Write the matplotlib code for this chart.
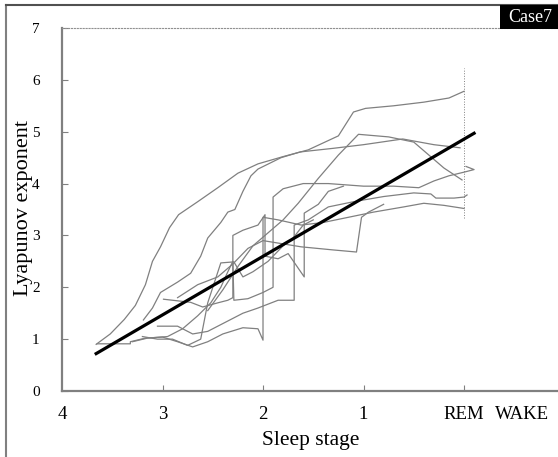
import numpy as np
import matplotlib
matplotlib.use("Agg")
import matplotlib.pyplot as plt
from matplotlib.patches import Rectangle
from matplotlib.lines import Line2D

plt.rcParams['font.family'] = ['Liberation Serif', 'DejaVu Serif']

# sleep stage positions (4 = deep sleep, 0 = REM) and labels
stage_pos = [4, 3, 2, 1, 0, -0.58]
stage_labels = ['4', '3', '2', '1', 'REM', 'WAKE']
y_ticks = [0, 1, 2, 3, 4, 5, 6, 7]

# trajectories (sleep stage, Lyapunov exponent)
t1_x = [3.66, 3.52, 3.38, 3.27, 3.17, 3.10, 3.02, 2.93, 2.84, 2.65, 2.45, 2.25, 2.05, 1.80, 1.55, 1.25, 1.10, 0.98, 0.70, 0.40, 0.15, 0.00]
t1_y = [0.90, 1.10, 1.38, 1.65, 2.05, 2.50, 2.78, 3.15, 3.40, 3.65, 3.92, 4.20, 4.38, 4.52, 4.65, 4.92, 5.38, 5.45, 5.50, 5.57, 5.65, 5.78]

t2_x = [3.19, 3.10, 3.02, 2.85, 2.72, 2.62, 2.55, 2.42, 2.35, 2.28, 2.20, 2.12, 2.05, 1.82, 1.63, 1.30, 1.00, 0.61, 0.30, 0.04]
t2_y = [1.37, 1.60, 1.90, 2.10, 2.27, 2.60, 2.95, 3.25, 3.45, 3.50, 3.85, 4.15, 4.28, 4.50, 4.61, 4.68, 4.75, 4.86, 4.75, 4.69]

t3_x = [2.55, 2.40, 2.25, 2.10, 1.95, 1.80, 1.65, 1.45, 1.25, 1.05, 0.75, 0.50, 0.35, 0.20, 0.02]
t3_y = [1.55, 1.95, 2.40, 2.80, 3.05, 3.30, 3.62, 4.10, 4.55, 4.95, 4.90, 4.80, 4.55, 4.30, 4.07]

t4_x = [3.30, 3.15, 2.95, 2.80, 2.65, 2.52, 2.42, 2.35, 2.30, 2.29, 2.15, 2.00, 1.90, 1.90, 1.80, 1.60, 1.35, 1.00, 0.70, 0.45, 0.30, 0.15, 0.00, -0.10, -0.02]
t4_y = [0.95, 1.02, 1.05, 1.20, 1.45, 1.70, 2.00, 2.30, 2.50, 1.75, 1.78, 1.90, 2.00, 3.74, 3.90, 4.00, 4.00, 3.95, 3.95, 3.92, 4.05, 4.15, 4.22, 4.27, 4.33]

t5_x = [3.05, 2.85, 2.70, 2.55, 2.40, 2.20, 2.05, 1.85, 1.69, 1.69, 1.55, 1.35, 1.10, 0.80, 0.50, 0.33, 0.28, 0.10, 0.00, -0.03]
t5_y = [1.25, 1.25, 1.10, 1.15, 1.30, 1.50, 1.60, 1.75, 1.75, 3.20, 3.30, 3.55, 3.65, 3.75, 3.82, 3.80, 3.72, 3.72, 3.74, 3.78]

t6_x = [3.65, 3.32, 3.32, 3.17, 3.00, 2.85, 2.70, 2.55, 2.40, 2.20, 2.05, 2.00, 2.00, 1.85, 1.62, 1.40, 1.15, 0.90, 0.60, 0.40, 0.20, 0.00]
t6_y = [0.91, 0.91, 0.95, 1.02, 1.04, 0.95, 0.85, 0.95, 1.10, 1.22, 1.20, 0.98, 3.35, 3.30, 3.20, 3.25, 3.35, 3.45, 3.55, 3.62, 3.58, 3.52]

t7_x = [2.85, 2.65, 2.45, 2.30, 2.15, 2.00, 1.62, 1.30, 1.07, 1.02, 0.95, 0.80]
t7_y = [1.80, 2.05, 2.20, 2.45, 2.75, 2.90, 2.78, 2.72, 2.68, 3.35, 3.45, 3.60]

t8_x = [2.99, 2.72, 2.60, 2.45, 2.35, 2.30, 2.30, 2.20, 2.05, 1.98, 1.98, 1.85, 1.75, 1.59, 1.59, 1.45, 1.35, 1.20]
t8_y = [1.77, 1.71, 1.62, 1.70, 1.75, 1.80, 3.00, 3.10, 3.20, 3.40, 2.60, 2.55, 2.65, 2.20, 3.43, 3.60, 3.85, 3.95]

t9_x = [3.20, 3.05, 2.90, 2.75, 2.62, 2.55, 2.42, 2.29, 2.20, 2.10, 1.95, 1.80, 1.70, 1.60, 1.50]
t9_y = [1.05, 1.00, 1.00, 0.88, 1.00, 1.70, 2.47, 2.49, 2.20, 2.30, 2.50, 2.80, 2.95, 3.20, 3.30]

traces = [(t1_x, t1_y), (t2_x, t2_y), (t3_x, t3_y), (t4_x, t4_y), (t5_x, t5_y),
          (t6_x, t6_y), (t7_x, t7_y), (t8_x, t8_y), (t9_x, t9_y)]

# REM boundary line
rem_x = [0, 0]
rem_y = [3.33, 6.22]

# linear fit: y = fit_a + fit_b * stage
fit_a = 4.857
fit_b = -1.130
fit_range = [3.66, -0.10]

fig = plt.figure(figsize=(5.58, 4.57), dpi=100)
ax = fig.add_axes([62 / 558, 66 / 457, 496 / 558, 363 / 457])

for xs, ys in traces:
    ax.plot(xs, ys, color='#808080', lw=0.9)
ax.plot(rem_x, rem_y, color='#808080', lw=0.7, ls=':')

fx = np.array(fit_range)
ax.plot(fx, fit_a + fit_b * fx, color='black', lw=2.3)

ax.set_xlim(4, -0.935)
ax.set_ylim(0, 7)
ax.set_xticks(stage_pos)
ax.set_xticklabels(stage_labels, fontsize=13.5)
ax.set_yticks(y_ticks)
ax.set_yticklabels([str(v) for v in y_ticks], fontsize=11)
ax.tick_params(axis='x', direction='in', length=4, color='#808080', pad=11)
ax.tick_params(axis='y', direction='in', length=4, color='#808080', pad=16)
ax.xaxis.get_major_ticks()[-1].tick1line.set_visible(False)
ax.xaxis.get_major_ticks()[0].tick1line.set_visible(False)

for s in ['left', 'bottom']:
    ax.spines[s].set_color('#808080')
    ax.spines[s].set_linewidth(1.6)
ax.spines['right'].set_visible(False)
ax.spines['top'].set_color('#909090')
ax.spines['top'].set_linewidth(0.8)
ax.spines['top'].set_linestyle(':')

ax.set_xlabel('Sleep stage', fontsize=15.5)
ax.set_ylabel('Lyapunov exponent', fontsize=16)
ax.xaxis.set_label_coords(0.502, -0.11)
ax.yaxis.set_label_coords(-0.058, 0.504)

# outer frame
fig.add_artist(Line2D([6 / 558, 6 / 558], [0, 1 - 5 / 457], transform=fig.transFigure, color='#808080', lw=1.5))
fig.add_artist(Line2D([6 / 558, 1], [1 - 5 / 457, 1 - 5 / 457], transform=fig.transFigure, color='#505050', lw=1.5))

# case label
fig.add_artist(Rectangle((500 / 558, 1 - 29 / 457), 58 / 558, 24 / 457, transform=fig.transFigure,
                         facecolor='black', edgecolor='none', zorder=5))
fig.text(530 / 558, 1 - 17 / 457, 'Case7', color='white', fontsize=13, ha='center', va='center', zorder=6)

plt.savefig('out.png', dpi=100)
